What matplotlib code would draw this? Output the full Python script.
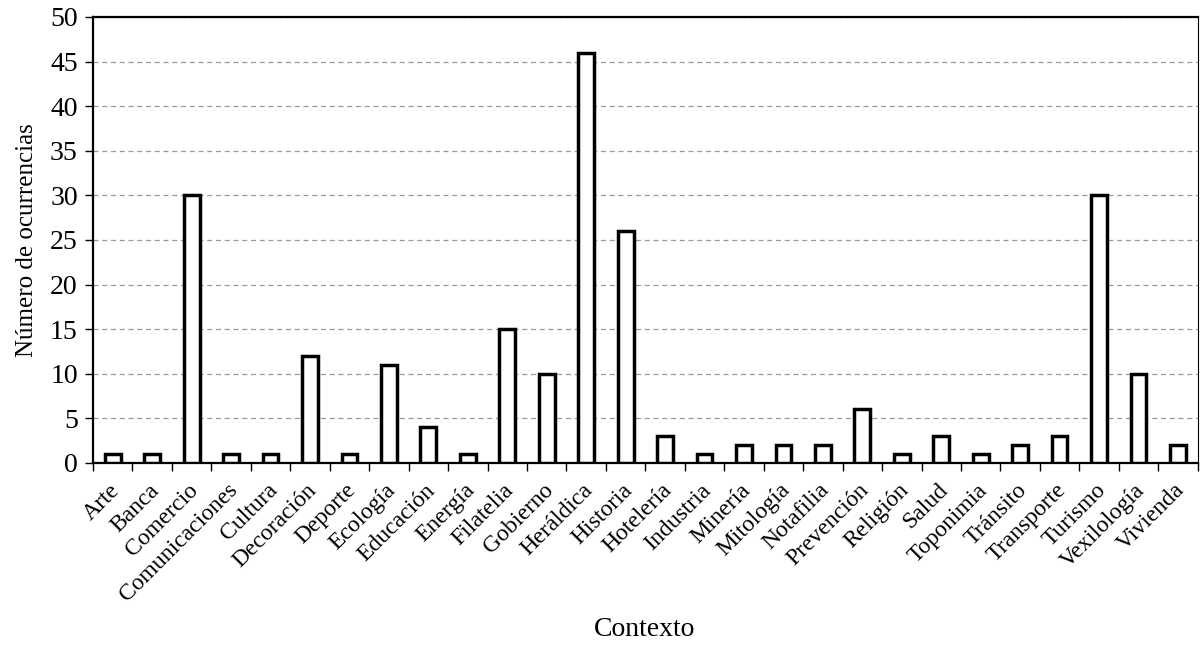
import matplotlib.pyplot as plt
import matplotlib.transforms as mtransforms
import numpy as np

plt.rcParams['font.family'] = ['Liberation Serif', 'DejaVu Serif']

contextos = ['Arte', 'Banca', 'Comercio', 'Comunicaciones', 'Cultura', 'Decoración',
             'Deporte', 'Ecología', 'Educación', 'Energía', 'Filatelia', 'Gobierno',
             'Heráldica', 'Historia', 'Hotelería', 'Industria', 'Minería', 'Mitología',
             'Notafilia', 'Prevención', 'Religión', 'Salud', 'Toponimia', 'Tránsito',
             'Transporte', 'Turismo', 'Vexilología', 'Vivienda']
ocurrencias = [1, 1, 30, 1, 1, 12, 1, 11, 4, 1, 15, 10, 46, 26, 3, 1, 2, 2, 2, 6,
               1, 3, 1, 2, 3, 30, 10, 2]
y_ticks = [0, 5, 10, 15, 20, 25, 30, 35, 40, 45, 50]

fig = plt.figure(figsize=(12.02, 6.48), dpi=100)
ax = fig.add_axes([0.0774, 0.2855, 0.919, 0.6883])

x = np.arange(len(contextos))
ax.bar(x, ocurrencias, width=0.4, facecolor='white', edgecolor='black', linewidth=2.5, zorder=3)

ax.set_xlim(-0.5, len(contextos) - 0.5)
ax.set_ylim(0, 50)
ax.set_yticks(y_ticks)
ax.tick_params(axis='y', labelsize=20, length=6, width=1, pad=5)
ax.yaxis.grid(True, linestyle=(0, (4, 3)), color='#999999', linewidth=0.9, zorder=0)

# ticks between categories, labels at centers
ax.set_xticks(np.arange(-0.5, len(contextos), 1.0))
ax.set_xticklabels([])
ax.set_xticks(x, minor=True)
ax.set_xticklabels(contextos, minor=True, rotation=45, ha='right', rotation_mode='anchor', fontsize=17)
ax.tick_params(axis='x', which='major', length=6, width=1, direction='out')
ax.tick_params(axis='x', which='minor', length=0, pad=12)
shift = mtransforms.ScaledTranslation(-4 / 100, 0, fig.dpi_scale_trans)
for lbl in ax.get_xticklabels(minor=True):
    lbl.set_transform(lbl.get_transform() + shift)

for side in ['left', 'bottom', 'top']:
    ax.spines[side].set_linewidth(1.6)
ax.spines['right'].set_linewidth(0.8)

ax.set_ylabel('Número de ocurrencias', fontsize=18)
ax.yaxis.set_label_coords(-0.050, 0.5)
fig.text(645 / 1202, 1 - 630 / 648, 'Contexto', fontsize=20, ha='center', va='center')

fig.savefig('out.png', dpi=100)
